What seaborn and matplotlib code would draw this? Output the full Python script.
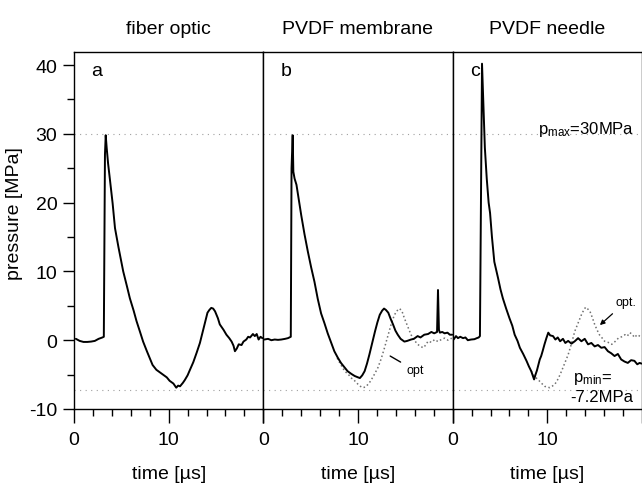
import matplotlib
matplotlib.use("Agg")
import numpy as np
import pandas as pd
import seaborn as sns
import matplotlib.pyplot as plt
from matplotlib.ticker import MultipleLocator, FixedLocator

# ---------------- data ----------------
panel_titles = ["fiber optic", "PVDF membrane", "PVDF needle"]
panel_letters = ["a", "b", "c"]

# panel a: fiber optic hydrophone
a_time = [0.2, 0.6, 1.0, 1.4, 1.8, 2.2, 2.6, 3.0, 3.15, 3.27, 3.35, 3.45, 3.6, 3.8,
          4.08, 4.33, 4.7, 5.2, 5.6, 5.9, 6.3, 6.6, 7.0, 7.3, 7.7, 8.0, 8.3, 8.7,
          9.0, 9.4, 9.8, 10.1, 10.5, 10.8, 11.0, 11.2, 11.5, 11.7, 12.0, 12.25,
          12.6, 12.96, 13.3, 13.7, 14.1, 14.3, 14.5, 14.7, 14.9, 15.2, 15.4, 15.8,
          16.1, 16.4, 16.65, 16.85, 17.0, 17.2, 17.4, 17.7, 17.9, 18.2, 18.4, 18.6,
          18.9, 19.1, 19.3, 19.5, 19.7, 19.9]
a_press = [0.2, -0.1, -0.25, -0.25, -0.2, -0.1, 0.2, 0.4, 0.5, 27.0, 29.8, 28.0, 25.7, 23.3,
           19.9, 16.3, 13.5, 10.0, 7.8, 6.1, 4.3, 2.8, 1.1, -0.2, -1.6, -2.6, -3.6, -4.3,
           -4.6, -5.0, -5.4, -5.9, -6.3, -6.9, -6.6, -6.7, -6.2, -5.8, -5.1, -4.3,
           -3.2, -1.8, -0.4, 1.8, 4.0, 4.4, 4.7, 4.6, 4.2, 3.2, 2.3, 1.5,
           0.8, 0.3, -0.2, -0.8, -1.6, -1.2, -0.6, -0.7, -0.2, 0.1, 0.5, 0.4,
           0.9, 0.6, 0.9, 0.1, 0.5, 0.3]

# panel b: PVDF membrane hydrophone
b_time = [0.1, 0.5, 0.85, 1.2, 1.55, 1.9, 2.3, 2.6, 2.9, 2.98, 3.1, 3.17, 3.3, 3.5,
          4.0, 4.35, 4.7, 5.05, 5.4, 5.75, 6.1, 6.45, 6.8, 7.15, 7.5, 7.85, 8.2,
          8.55, 8.9, 9.3, 9.65, 10.0, 10.2, 10.45, 10.7, 10.95, 11.2, 11.5, 11.8,
          12.05, 12.3, 12.55, 12.75, 12.95, 13.2, 13.45, 13.7, 13.95, 14.2, 14.5,
          14.9, 15.2, 15.6, 15.9, 16.3, 16.6, 17.0, 17.4, 17.75, 18.05, 18.35,
          18.45, 18.55, 18.65, 18.9, 19.15, 19.45, 19.7, 19.95]
b_press = [0.1, 0.2, 0.0, 0.1, 0.05, 0.1, 0.2, 0.3, 0.5, 25.0, 29.8, 24.5, 23.5, 22.6,
           18.2, 15.4, 12.9, 10.6, 8.5, 6.0, 3.9, 2.5, 1.0, -0.3, -1.6, -2.5, -3.3,
           -3.9, -4.5, -4.9, -5.2, -5.4, -5.5, -5.1, -4.5, -3.4, -2.1, -0.4, 1.3,
           2.6, 3.7, 4.3, 4.6, 4.4, 4.0, 3.1, 2.3, 1.4, 0.8, 0.2,
           -0.2, -0.1, 0.1, 0.2, 0.6, 0.4, 0.8, 0.9, 1.2, 1.0, 1.2,
           7.3, 1.5, 1.1, 1.2, 1.0, 1.1, 0.8, 0.8]

# fiber-optic reference overlaid in panel b
b_opt_time = [7.8, 8.2, 8.6, 9.0, 9.3, 9.65, 10.0, 10.25, 10.5, 10.8, 11.2, 11.6, 12.1,
              12.45, 12.8, 13.15, 13.5, 13.8, 14.05, 14.4, 14.65, 14.9, 15.25, 15.6,
              15.95, 16.3, 16.6, 16.9, 17.15, 17.4, 17.75, 18.1, 18.45, 18.8, 19.15,
              19.5, 19.9]
b_opt_press = [-2.6, -3.6, -4.5, -5.0, -5.5, -5.9, -6.4, -6.7, -6.9, -6.8, -6.2, -5.3, -4.0,
               -2.7, -1.1, 0.6, 2.3, 3.5, 4.2, 4.6, 4.2, 3.2, 2.0, 0.8,
               0.0, -0.6, -0.9, -1.1, -0.7, -0.15, -0.3, 0.1, -0.2, 0.1, 0.3,
               0.0, 0.3]

# panel c: PVDF needle hydrophone
c_time = [0.1, 0.35, 0.56, 0.8, 1.1, 1.35, 1.6, 1.95, 2.3, 2.55, 2.75, 2.88, 3.1, 3.4,
          3.6, 3.8, 3.95, 4.15, 4.4, 4.6, 4.8, 5.05, 5.3, 5.65, 6.0, 6.3, 6.55,
          6.85, 7.1, 7.45, 7.8, 8.05, 8.3, 8.45, 8.6, 8.75, 8.9, 9.2, 9.35,
          9.5, 9.7, 9.9, 10.1, 10.3, 10.6, 10.85, 11.1, 11.35, 11.65, 11.9, 12.2,
          12.55, 12.9, 13.25, 13.6, 13.95, 14.3, 14.65, 15.0, 15.35, 15.7, 16.05,
          16.4, 16.75, 17.1, 17.45, 17.8, 18.15, 18.5, 18.85, 19.2, 19.5, 19.75, 19.95]
c_press = [0.1, 0.6, 0.3, 0.5, 0.3, 0.4, 0.0, 0.1, 0.15, 0.3, 0.4, 0.6, 40.2, 28.0,
           23.5, 20.0, 18.5, 15.0, 11.4, 10.2, 9.0, 7.4, 6.1, 4.6, 3.2, 2.1, 0.8,
           -0.1, -1.1, -2.0, -3.0, -3.8, -4.5, -5.1, -5.7, -5.0, -4.4, -2.8, -2.3,
           -1.6, -0.6, 0.3, 1.1, 0.7, 0.6, 0.1, 0.4, -0.15, 0.2, -0.4, -0.1,
           -0.5, -0.15, 0.3, -0.15, 0.2, -0.6, -0.4, -0.9, -0.7, -1.1, -1.0,
           -1.6, -1.9, -2.3, -2.0, -2.8, -3.1, -3.3, -2.9, -3.0, -3.5, -3.3, -3.4]

# fiber-optic reference overlaid in panel c
c_opt_time = [8.3, 8.6, 9.0, 9.35, 9.7, 10.0, 10.25, 10.5, 10.8, 11.15, 11.5, 11.85, 12.2,
              12.55, 12.9, 13.25, 13.6, 13.85, 14.05, 14.3, 14.5, 14.75, 15.0, 15.25,
              15.5, 15.8, 16.05, 16.4, 16.8, 17.15, 17.5, 17.85, 18.2, 18.45, 18.7,
              18.95, 19.2, 19.5, 19.75, 19.95]
c_opt_press = [-4.5, -5.2, -5.7, -6.2, -6.7, -6.8, -6.9, -6.7, -6.4, -5.6, -4.5, -3.3, -2.1,
               -0.5, 1.3, 2.5, 3.7, 4.4, 4.8, 4.5, 4.2, 3.3, 2.3, 1.5,
               0.8, 0.3, -0.15, -0.3, -0.6, -0.2, 0.3, 0.5, 0.8, 0.6, 1.1,
               0.9, 0.4, 0.8, 0.6, 0.5]

ref_levels = [30, -7.2]   # dotted guide lines (p_max, p_min)

# ---------------- style ----------------
sns.set_style("ticks")
plt.rcParams["font.family"] = ["Liberation Sans", "DejaVu Sans"]
plt.rcParams["axes.unicode_minus"] = False
plt.rcParams["mathtext.fontset"] = "custom"
plt.rcParams["mathtext.rm"] = "Liberation Sans"
plt.rcParams["mathtext.it"] = "Liberation Sans"
plt.rcParams["text.color"] = "black"
plt.rcParams["axes.labelcolor"] = "black"
plt.rcParams["xtick.color"] = "black"
plt.rcParams["ytick.color"] = "black"

fig = plt.figure(figsize=(6.42, 4.89), dpi=100)
gs = fig.add_gridspec(1, 3, left=74 / 642, right=1.0, bottom=1 - 410 / 489,
                      top=1 - 53 / 489, wspace=0)
axes = [fig.add_subplot(gs[0, 0])]
axes.append(fig.add_subplot(gs[0, 1], sharey=axes[0]))
axes.append(fig.add_subplot(gs[0, 2], sharey=axes[0]))

main = [(a_time, a_press), (b_time, b_press), (c_time, c_press)]
opts = [None, (b_opt_time, b_opt_press), (c_opt_time, c_opt_press)]

for i, ax in enumerate(axes):
    for lvl in ref_levels:
        ax.axhline(lvl, color="#a0a0a0", lw=0.8, ls=(0, (1, 4)), zorder=1)
    if opts[i] is not None:
        dfo = pd.DataFrame({"time": opts[i][0], "pressure": opts[i][1]})
        sns.lineplot(data=dfo, x="time", y="pressure", ax=ax, color="#707070",
                     lw=1.1, ls=":", estimator=None, sort=False, zorder=2)
    df = pd.DataFrame({"time": main[i][0], "pressure": main[i][1]})
    sns.lineplot(data=df, x="time", y="pressure", ax=ax, color="black",
                 lw=1.4, estimator=None, sort=False, zorder=3)

    ax.set_xlim(0, 20)
    ax.set_ylim(-10, 41.9)
    ax.xaxis.set_major_locator(FixedLocator([0, 10, 20]))
    ax.set_xticklabels(["0", "10", ""])
    ax.xaxis.set_minor_locator(MultipleLocator(2))
    ax.tick_params(axis="x", which="major", direction="out", length=10, width=1,
                   labelsize=14, pad=6, color="black", labelcolor="black")
    ax.tick_params(axis="x", which="minor", direction="out", length=5, width=1,
                   color="black")
    for s in ax.spines.values():
        s.set_visible(True)
        s.set_color("black")
        s.set_linewidth(1.0)
    ax.set_title(panel_titles[i], fontsize=14, pad=14, color="black")
    ax.set_xlabel("time [µs]", fontsize=14, labelpad=12, color="black")
    ax.text(1.8, 39.2, panel_letters[i], fontsize=14, ha="left", va="center",
            color="black")
    if i == 0:
        ax.set_ylabel("pressure [MPa]", fontsize=14, color="black")
        ax.yaxis.set_label_coords(-0.27, 0.55)
        ax.yaxis.set_major_locator(FixedLocator([-10, 0, 10, 20, 30, 40]))
        ax.yaxis.set_minor_locator(MultipleLocator(5))
        ax.tick_params(axis="y", which="major", direction="out", length=8, width=1,
                       labelsize=14, pad=4, color="black", labelcolor="black")
        ax.tick_params(axis="y", which="minor", direction="out", length=5, width=1,
                       color="black")
    else:
        ax.set_ylabel("")
        ax.tick_params(axis="y", which="both", left=False, labelleft=False)

# annotations
axes[1].annotate("opt", xy=(13.4, -2.3), xytext=(15.1, -4.4), fontsize=9,
                 ha="left", va="center", color="black",
                 arrowprops=dict(arrowstyle="-", color="black", lw=1.0,
                                 shrinkA=2, shrinkB=0))
axes[2].annotate("opt.", xy=(15.55, 2.2), xytext=(17.2, 5.6), fontsize=9,
                 ha="left", va="center", color="black",
                 arrowprops=dict(arrowstyle="-|>", color="black", lw=0.9,
                                 mutation_scale=7, shrinkA=3, shrinkB=0))
axes[2].text(9.0, 30.8, r"p$_{\mathregular{max}}$=30MPa", fontsize=12,
             ha="left", va="center", color="black")
axes[2].text(12.7, -5.5, r"p$_{\mathregular{min}}$=", fontsize=12,
             ha="left", va="center", color="black")
axes[2].text(12.4, -8.2, "-7.2MPa", fontsize=12, ha="left", va="center",
             color="black")

fig.savefig("out.png", dpi=100)
